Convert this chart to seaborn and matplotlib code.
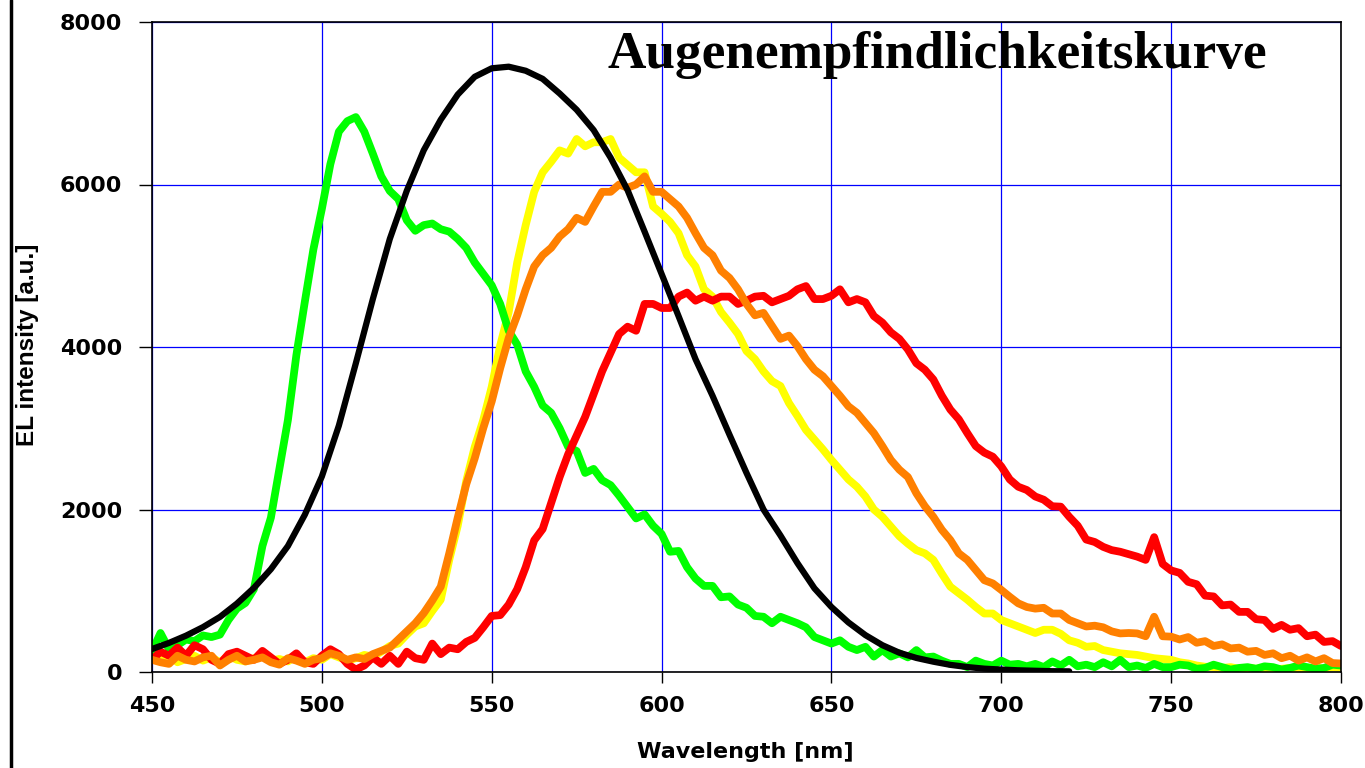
import numpy as np
import matplotlib
matplotlib.use("Agg")
import matplotlib.pyplot as plt
from matplotlib.lines import Line2D
import seaborn as sns

# wavelength grid of the measured EL spectra (2.5 nm steps, 450..800 nm)
wavelength = np.arange(450, 800.1, 2.5)

green = [
    250, 480, 280, 330, 400, 380, 450, 430, 460, 640,
    780, 850, 1020, 1550, 1900, 2500, 3100, 3900, 4560, 5200,
    5700, 6250, 6650, 6780, 6830, 6650, 6380, 6100, 5920, 5820,
    5560, 5430, 5500, 5520, 5450, 5420, 5330, 5220, 5040, 4900,
    4760, 4530, 4200, 4030, 3700, 3510, 3280, 3190, 3000, 2770,
    2720, 2450, 2500, 2360, 2300, 2170, 2030, 1890, 1940, 1800,
    1700, 1480, 1490, 1290, 1150, 1060, 1060, 920, 930, 830,
    790, 690, 680, 600, 680, 640, 600, 550, 430, 390,
    350, 390, 310, 270, 310, 190, 270, 190, 230, 180,
    270, 180, 190, 140, 100, 100, 60, 140, 100, 80,
    140, 90, 100, 70, 100, 60, 130, 80, 150, 70,
    90, 60, 120, 70, 150, 60, 80, 50, 100, 60,
    60, 90, 80, 40, 50, 90, 60, 30, 50, 60,
    40, 70, 60, 30, 50, 80, 60, 40, 50, 90,
    80,
]

yellow = [
    180, 150, 220, 120, 160, 200, 140, 180, 120, 200,
    150, 130, 170, 200, 140, 160, 130, 200, 120, 170,
    150, 220, 180, 140, 170, 210, 190, 250, 320, 350,
    460, 560, 600, 750, 890, 1380, 1800, 2350, 2770, 3100,
    3510, 4020, 4430, 5040, 5500, 5910, 6150, 6280, 6420, 6380,
    6560, 6470, 6520, 6520, 6560, 6330, 6240, 6150, 6150, 5730,
    5640, 5540, 5400, 5130, 4990, 4710, 4620, 4430, 4300, 4160,
    3950, 3850, 3700, 3580, 3520, 3310, 3150, 2980, 2860, 2740,
    2610, 2490, 2370, 2280, 2160, 2000, 1910, 1790, 1670, 1580,
    1500, 1460, 1380, 1210, 1050, 970, 890, 800, 720, 720,
    640, 600, 560, 520, 480, 520, 520, 470, 390, 360,
    310, 320, 270, 250, 230, 220, 210, 190, 170, 160,
    150, 120, 105, 80, 65, 60, 50, 60, 40, 50,
    40, 50, 30, 40, 50, 30, 40, 50, 40, 60,
    50,
]

orange = [
    150, 120, 100, 200, 150, 130, 180, 200, 80, 150,
    200, 130, 150, 180, 120, 90, 170, 140, 100, 150,
    170, 230, 200, 150, 180, 160, 220, 260, 300, 400,
    500, 600, 725, 880, 1050, 1460, 1900, 2310, 2630, 3000,
    3330, 3740, 4110, 4390, 4710, 4990, 5130, 5220, 5360, 5450,
    5590, 5540, 5730, 5910, 5910, 6000, 5960, 6000, 6100, 5910,
    5910, 5820, 5730, 5590, 5400, 5220, 5130, 4940, 4850, 4710,
    4530, 4390, 4420, 4260, 4100, 4140, 4010, 3850, 3720, 3640,
    3520, 3400, 3270, 3190, 3065, 2940, 2780, 2610, 2490, 2400,
    2200, 2040, 1910, 1750, 1625, 1460, 1380, 1255, 1130, 1090,
    1010, 925, 845, 800, 780, 790, 720, 720, 640, 600,
    560, 570, 550, 500, 475, 480, 475, 440, 680, 440,
    435, 400, 430, 360, 380, 320, 340, 290, 300, 250,
    260, 210, 230, 170, 200, 140, 180, 130, 170, 110,
    105,
]

red = [
    150, 250, 200, 300, 200, 330, 280, 150, 100, 220,
    250, 200, 150, 260, 180, 100, 150, 230, 120, 100,
    200, 280, 220, 100, 30, 80, 180, 100, 200, 100,
    250, 170, 150, 350, 220, 300, 280, 370, 420, 550,
    690, 700, 830, 1020, 1290, 1620, 1760, 2080, 2400, 2680,
    2910, 3140, 3420, 3700, 3930, 4160, 4250, 4200, 4530, 4530,
    4480, 4480, 4620, 4670, 4570, 4620, 4570, 4620, 4620, 4530,
    4570, 4620, 4630, 4550, 4590, 4630, 4710, 4750, 4590, 4590,
    4630, 4710, 4550, 4590, 4550, 4380, 4300, 4180, 4100, 3970,
    3800, 3720, 3600, 3400, 3230, 3110, 2940, 2780, 2700, 2650,
    2530, 2370, 2280, 2240, 2160, 2120, 2040, 2035, 1910, 1800,
    1630, 1600, 1540, 1500, 1480, 1450, 1420, 1380, 1660, 1330,
    1250, 1220, 1110, 1080, 940, 930, 820, 830, 740, 740,
    650, 640, 530, 580, 520, 540, 440, 460, 370, 380,
    320,
]

# eye sensitivity curve (scaled), 5 nm steps
eye_wl = np.arange(450, 720.1, 5)
eye = [
    283, 358, 447, 552, 678, 842, 1035, 1266, 1550, 1937,
    2406, 3032, 3799, 4589, 5330, 5923, 6422, 6798, 7107, 7326,
    7430, 7450, 7400, 7300, 7120, 6920, 6670, 6330, 5930, 5420,
    4900, 4380, 3850, 3400, 2920, 2450, 2000, 1680, 1340, 1030,
    800, 610, 454, 330, 237, 173, 127, 88, 61, 41,
    30, 21, 15, 10, 8,
]

sns.set_style("white")
plt.rcParams["text.color"] = "black"

fig = plt.figure(figsize=(13.65, 7.68), dpi=100)
ax = fig.add_axes([152 / 1365, 96 / 768, 1189 / 1365, 650 / 768])

lw = 5.6
sns.lineplot(x=wavelength, y=yellow, color="#FFFF00", linewidth=lw, ax=ax)
sns.lineplot(x=wavelength, y=green, color="#00FF00", linewidth=lw, ax=ax)
sns.lineplot(x=wavelength, y=red, color="#FF0000", linewidth=lw, ax=ax)
sns.lineplot(x=wavelength, y=orange, color="#FF8000", linewidth=lw, ax=ax)
sns.lineplot(x=eye_wl, y=eye, color="black", linewidth=4.5, ax=ax)

ax.set_xlim(450, 800)
ax.set_ylim(0, 8000)
ax.set_xticks(np.arange(450, 801, 50))
ax.set_yticks(np.arange(0, 8001, 2000))
ax.grid(True, color="#0000FF", linewidth=0.9)
ax.set_axisbelow(True)
for side in ax.spines.values():
    side.set_color("black")
    side.set_linewidth(1.2)

ax.tick_params(axis="y", left=True, direction="out", length=9.5, width=1, pad=12,
               colors="black")
ax.tick_params(axis="x", bottom=True, direction="out", length=8, width=1, pad=9,
               colors="black")
for lab in ax.get_xticklabels() + ax.get_yticklabels():
    lab.set_fontfamily("DejaVu Sans")
    lab.set_fontweight("bold")
    lab.set_fontsize(16)
ax.set_xlabel("")
ax.set_ylabel("")

fig.text(745 / 1365, 1 - 752 / 768, "Wavelength [nm]", ha="center", va="center",
         fontsize=16, fontweight="bold", family="DejaVu Sans", color="black")
fig.text(28 / 1365, 1 - 345 / 768, "EL intensity [a.u.]", ha="center", va="center",
         rotation=90, fontsize=17.5, fontweight="bold", family="Liberation Sans",
         color="black")
fig.text(608 / 1365, 1 - 68 / 768, "Augenempfindlichkeitskurve", ha="left", va="baseline",
         fontsize=38.3, fontweight="bold", family="Liberation Serif", color="black")

# frame edge on the far left
fig.add_artist(Line2D([11 / 1365, 11 / 1365], [0, 1], transform=fig.transFigure,
                      color="black", linewidth=2.5))

fig.savefig("out.png", dpi=100)
